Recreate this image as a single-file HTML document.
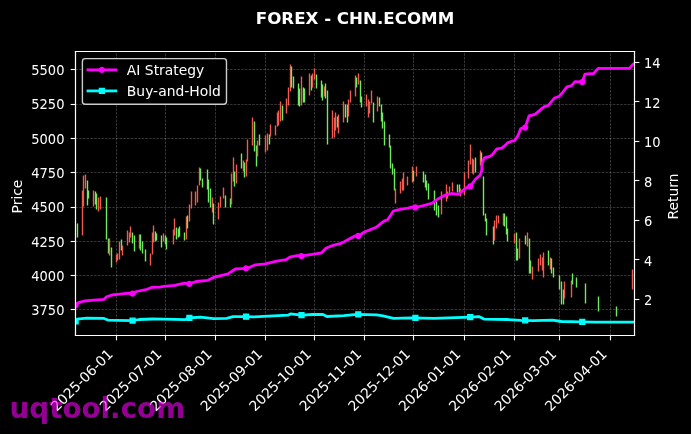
<!DOCTYPE html>
<html><head><meta charset="utf-8"><style>html,body{margin:0;padding:0;background:#000;width:691px;height:434px;overflow:hidden}svg{display:block}</style></head><body>
<svg width="691" height="434" viewBox="0 0 497.52 312.48">
 
 <defs>
  <style type="text/css">*{stroke-linejoin: round; stroke-linecap: butt}</style>
 </defs>
 <g id="figure_1">
  <g id="patch_1">
   <path d="M 0 312.48 
L 497.52 312.48 
L 497.52 0 
L 0 0 
z
"/>
  </g>
  <g id="axes_1">
   <g id="patch_2">
    <path d="M 54.126 241.2 
L 456.606 241.2 
L 456.606 36.72 
L 54.126 36.72 
z
"/>
   </g>
   <g id="matplotlib.axis_1">
    <g id="xtick_1">
     <g id="line2d_1">
      <path d="M 83.8800 241.5600 
L 83.8800 37.0800 
" clip-path="url(#p8a2a7d8e47)" style="fill: none; stroke-dasharray: 1.85,0.8; stroke-dashoffset: 0; stroke: #ffffff; stroke-opacity: 0.3; stroke-width: 0.5"/>
     </g>
     <g id="line2d_2">
      <defs>
       <path id="m3d74631712" d="M 0 0 
L 0 3.5 
" style="stroke: #ffffff; stroke-width: 0.8"/>
      </defs>
      <g>
       <use href="#m3d74631712" x="83.8800" y="241.5600" style="fill: #ffffff; stroke: #ffffff; stroke-width: 0.8"/>
      </g>
     </g>
     <g id="text_1">
      <text style="font-size: 10px; font-family: 'DejaVu Sans', sans-serif; fill: #ffffff" transform="translate(40.811486 296.666859) rotate(-45)">2025-06-01</text>
     </g>
    </g>
    <g id="xtick_2">
     <g id="line2d_3">
      <path d="M 119.1600 241.5600 
L 119.1600 37.0800 
" clip-path="url(#p8a2a7d8e47)" style="fill: none; stroke-dasharray: 1.85,0.8; stroke-dashoffset: 0; stroke: #ffffff; stroke-opacity: 0.3; stroke-width: 0.5"/>
     </g>
     <g id="line2d_4">
      <g>
       <use href="#m3d74631712" x="119.1600" y="241.5600" style="fill: #ffffff; stroke: #ffffff; stroke-width: 0.8"/>
      </g>
     </g>
     <g id="text_2">
      <text style="font-size: 10px; font-family: 'DejaVu Sans', sans-serif; fill: #ffffff" transform="translate(75.911486 296.666859) rotate(-45)">2025-07-01</text>
     </g>
    </g>
    <g id="xtick_3">
     <g id="line2d_5">
      <path d="M 155.1600 241.5600 
L 155.1600 37.0800 
" clip-path="url(#p8a2a7d8e47)" style="fill: none; stroke-dasharray: 1.85,0.8; stroke-dashoffset: 0; stroke: #ffffff; stroke-opacity: 0.3; stroke-width: 0.5"/>
     </g>
     <g id="line2d_6">
      <g>
       <use href="#m3d74631712" x="155.1600" y="241.5600" style="fill: #ffffff; stroke: #ffffff; stroke-width: 0.8"/>
      </g>
     </g>
     <g id="text_3">
      <text style="font-size: 10px; font-family: 'DejaVu Sans', sans-serif; fill: #ffffff" transform="translate(112.181486 296.666859) rotate(-45)">2025-08-01</text>
     </g>
    </g>
    <g id="xtick_4">
     <g id="line2d_7">
      <path d="M 191.1600 241.5600 
L 191.1600 37.0800 
" clip-path="url(#p8a2a7d8e47)" style="fill: none; stroke-dasharray: 1.85,0.8; stroke-dashoffset: 0; stroke: #ffffff; stroke-opacity: 0.3; stroke-width: 0.5"/>
     </g>
     <g id="line2d_8">
      <g>
       <use href="#m3d74631712" x="191.1600" y="241.5600" style="fill: #ffffff; stroke: #ffffff; stroke-width: 0.8"/>
      </g>
     </g>
     <g id="text_4">
      <text style="font-size: 10px; font-family: 'DejaVu Sans', sans-serif; fill: #ffffff" transform="translate(148.451486 296.666859) rotate(-45)">2025-09-01</text>
     </g>
    </g>
    <g id="xtick_5">
     <g id="line2d_9">
      <path d="M 226.4400 241.5600 
L 226.4400 37.0800 
" clip-path="url(#p8a2a7d8e47)" style="fill: none; stroke-dasharray: 1.85,0.8; stroke-dashoffset: 0; stroke: #ffffff; stroke-opacity: 0.3; stroke-width: 0.5"/>
     </g>
     <g id="line2d_10">
      <g>
       <use href="#m3d74631712" x="226.4400" y="241.5600" style="fill: #ffffff; stroke: #ffffff; stroke-width: 0.8"/>
      </g>
     </g>
     <g id="text_5">
      <text style="font-size: 10px; font-family: 'DejaVu Sans', sans-serif; fill: #ffffff" transform="translate(183.551486 296.666859) rotate(-45)">2025-10-01</text>
     </g>
    </g>
    <g id="xtick_6">
     <g id="line2d_11">
      <path d="M 262.4400 241.5600 
L 262.4400 37.0800 
" clip-path="url(#p8a2a7d8e47)" style="fill: none; stroke-dasharray: 1.85,0.8; stroke-dashoffset: 0; stroke: #ffffff; stroke-opacity: 0.3; stroke-width: 0.5"/>
     </g>
     <g id="line2d_12">
      <g>
       <use href="#m3d74631712" x="262.4400" y="241.5600" style="fill: #ffffff; stroke: #ffffff; stroke-width: 0.8"/>
      </g>
     </g>
     <g id="text_6">
      <text style="font-size: 10px; font-family: 'DejaVu Sans', sans-serif; fill: #ffffff" transform="translate(219.821486 296.666859) rotate(-45)">2025-11-01</text>
     </g>
    </g>
    <g id="xtick_7">
     <g id="line2d_13">
      <path d="M 297.7200 241.5600 
L 297.7200 37.0800 
" clip-path="url(#p8a2a7d8e47)" style="fill: none; stroke-dasharray: 1.85,0.8; stroke-dashoffset: 0; stroke: #ffffff; stroke-opacity: 0.3; stroke-width: 0.5"/>
     </g>
     <g id="line2d_14">
      <g>
       <use href="#m3d74631712" x="297.7200" y="241.5600" style="fill: #ffffff; stroke: #ffffff; stroke-width: 0.8"/>
      </g>
     </g>
     <g id="text_7">
      <text style="font-size: 10px; font-family: 'DejaVu Sans', sans-serif; fill: #ffffff" transform="translate(254.921486 296.666859) rotate(-45)">2025-12-01</text>
     </g>
    </g>
    <g id="xtick_8">
     <g id="line2d_15">
      <path d="M 334.4400 241.5600 
L 334.4400 37.0800 
" clip-path="url(#p8a2a7d8e47)" style="fill: none; stroke-dasharray: 1.85,0.8; stroke-dashoffset: 0; stroke: #ffffff; stroke-opacity: 0.3; stroke-width: 0.5"/>
     </g>
     <g id="line2d_16">
      <g>
       <use href="#m3d74631712" x="334.4400" y="241.5600" style="fill: #ffffff; stroke: #ffffff; stroke-width: 0.8"/>
      </g>
     </g>
     <g id="text_8">
      <text style="font-size: 10px; font-family: 'DejaVu Sans', sans-serif; fill: #ffffff" transform="translate(291.191486 296.666859) rotate(-45)">2026-01-01</text>
     </g>
    </g>
    <g id="xtick_9">
     <g id="line2d_17">
      <path d="M 370.4400 241.5600 
L 370.4400 37.0800 
" clip-path="url(#p8a2a7d8e47)" style="fill: none; stroke-dasharray: 1.85,0.8; stroke-dashoffset: 0; stroke: #ffffff; stroke-opacity: 0.3; stroke-width: 0.5"/>
     </g>
     <g id="line2d_18">
      <g>
       <use href="#m3d74631712" x="370.4400" y="241.5600" style="fill: #ffffff; stroke: #ffffff; stroke-width: 0.8"/>
      </g>
     </g>
     <g id="text_9">
      <text style="font-size: 10px; font-family: 'DejaVu Sans', sans-serif; fill: #ffffff" transform="translate(327.461486 296.666859) rotate(-45)">2026-02-01</text>
     </g>
    </g>
    <g id="xtick_10">
     <g id="line2d_19">
      <path d="M 402.8400 241.5600 
L 402.8400 37.0800 
" clip-path="url(#p8a2a7d8e47)" style="fill: none; stroke-dasharray: 1.85,0.8; stroke-dashoffset: 0; stroke: #ffffff; stroke-opacity: 0.3; stroke-width: 0.5"/>
     </g>
     <g id="line2d_20">
      <g>
       <use href="#m3d74631712" x="402.8400" y="241.5600" style="fill: #ffffff; stroke: #ffffff; stroke-width: 0.8"/>
      </g>
     </g>
     <g id="text_10">
      <text style="font-size: 10px; font-family: 'DejaVu Sans', sans-serif; fill: #ffffff" transform="translate(360.221486 296.666859) rotate(-45)">2026-03-01</text>
     </g>
    </g>
    <g id="xtick_11">
     <g id="line2d_21">
      <path d="M 439.5600 241.5600 
L 439.5600 37.0800 
" clip-path="url(#p8a2a7d8e47)" style="fill: none; stroke-dasharray: 1.85,0.8; stroke-dashoffset: 0; stroke: #ffffff; stroke-opacity: 0.3; stroke-width: 0.5"/>
     </g>
     <g id="line2d_22">
      <g>
       <use href="#m3d74631712" x="439.5600" y="241.5600" style="fill: #ffffff; stroke: #ffffff; stroke-width: 0.8"/>
      </g>
     </g>
     <g id="text_11">
      <text style="font-size: 10px; font-family: 'DejaVu Sans', sans-serif; fill: #ffffff" transform="translate(396.491486 296.666859) rotate(-45)">2026-04-01</text>
     </g>
    </g>
   </g>
   <g id="matplotlib.axis_2">
    <g id="ytick_1">
     <g id="line2d_23">
      <path d="M 54.3600 222.8400 
L 456.8400 222.8400 
" clip-path="url(#p8a2a7d8e47)" style="fill: none; stroke-dasharray: 1.85,0.8; stroke-dashoffset: 0; stroke: #ffffff; stroke-opacity: 0.3; stroke-width: 0.5"/>
     </g>
     <g id="line2d_24">
      <defs>
       <path id="mdc6017648b" d="M 0 0 
L -3.5 0 
" style="stroke: #ffffff; stroke-width: 0.8"/>
      </defs>
      <g>
       <use href="#mdc6017648b" x="54.3600" y="222.8400" style="fill: #ffffff; stroke: #ffffff; stroke-width: 0.8"/>
      </g>
     </g>
     <g id="text_12">
      <text style="font-size: 10px; font-family: 'DejaVu Sans', sans-serif; text-anchor: end; fill: #ffffff" x="47.126" y="226.603219" transform="translate(35.226 0.36) scale(0.94 1) translate(-35.226 0)">3750</text>
     </g>
    </g>
    <g id="ytick_2">
     <g id="line2d_25">
      <path d="M 54.3600 198.3600 
L 456.8400 198.3600 
" clip-path="url(#p8a2a7d8e47)" style="fill: none; stroke-dasharray: 1.85,0.8; stroke-dashoffset: 0; stroke: #ffffff; stroke-opacity: 0.3; stroke-width: 0.5"/>
     </g>
     <g id="line2d_26">
      <g>
       <use href="#mdc6017648b" x="54.3600" y="198.3600" style="fill: #ffffff; stroke: #ffffff; stroke-width: 0.8"/>
      </g>
     </g>
     <g id="text_13">
      <text style="font-size: 10px; font-family: 'DejaVu Sans', sans-serif; text-anchor: end; fill: #ffffff" x="47.126" y="201.907219" transform="translate(35.226 0.36) scale(0.94 1) translate(-35.226 0)">4000</text>
     </g>
    </g>
    <g id="ytick_3">
     <g id="line2d_27">
      <path d="M 54.3600 173.8800 
L 456.8400 173.8800 
" clip-path="url(#p8a2a7d8e47)" style="fill: none; stroke-dasharray: 1.85,0.8; stroke-dashoffset: 0; stroke: #ffffff; stroke-opacity: 0.3; stroke-width: 0.5"/>
     </g>
     <g id="line2d_28">
      <g>
       <use href="#mdc6017648b" x="54.3600" y="173.8800" style="fill: #ffffff; stroke: #ffffff; stroke-width: 0.8"/>
      </g>
     </g>
     <g id="text_14">
      <text style="font-size: 10px; font-family: 'DejaVu Sans', sans-serif; text-anchor: end; fill: #ffffff" x="47.126" y="177.211219" transform="translate(35.226 0.36) scale(0.94 1) translate(-35.226 0)">4250</text>
     </g>
    </g>
    <g id="ytick_4">
     <g id="line2d_29">
      <path d="M 54.3600 149.4000 
L 456.8400 149.4000 
" clip-path="url(#p8a2a7d8e47)" style="fill: none; stroke-dasharray: 1.85,0.8; stroke-dashoffset: 0; stroke: #ffffff; stroke-opacity: 0.3; stroke-width: 0.5"/>
     </g>
     <g id="line2d_30">
      <g>
       <use href="#mdc6017648b" x="54.3600" y="149.4000" style="fill: #ffffff; stroke: #ffffff; stroke-width: 0.8"/>
      </g>
     </g>
     <g id="text_15">
      <text style="font-size: 10px; font-family: 'DejaVu Sans', sans-serif; text-anchor: end; fill: #ffffff" x="47.126" y="152.515219" transform="translate(35.226 0.36) scale(0.94 1) translate(-35.226 0)">4500</text>
     </g>
    </g>
    <g id="ytick_5">
     <g id="line2d_31">
      <path d="M 54.3600 124.2000 
L 456.8400 124.2000 
" clip-path="url(#p8a2a7d8e47)" style="fill: none; stroke-dasharray: 1.85,0.8; stroke-dashoffset: 0; stroke: #ffffff; stroke-opacity: 0.3; stroke-width: 0.5"/>
     </g>
     <g id="line2d_32">
      <g>
       <use href="#mdc6017648b" x="54.3600" y="124.2000" style="fill: #ffffff; stroke: #ffffff; stroke-width: 0.8"/>
      </g>
     </g>
     <g id="text_16">
      <text style="font-size: 10px; font-family: 'DejaVu Sans', sans-serif; text-anchor: end; fill: #ffffff" x="47.126" y="127.819219" transform="translate(35.226 0.36) scale(0.94 1) translate(-35.226 0)">4750</text>
     </g>
    </g>
    <g id="ytick_6">
     <g id="line2d_33">
      <path d="M 54.3600 99.7200 
L 456.8400 99.7200 
" clip-path="url(#p8a2a7d8e47)" style="fill: none; stroke-dasharray: 1.85,0.8; stroke-dashoffset: 0; stroke: #ffffff; stroke-opacity: 0.3; stroke-width: 0.5"/>
     </g>
     <g id="line2d_34">
      <g>
       <use href="#mdc6017648b" x="54.3600" y="99.7200" style="fill: #ffffff; stroke: #ffffff; stroke-width: 0.8"/>
      </g>
     </g>
     <g id="text_17">
      <text style="font-size: 10px; font-family: 'DejaVu Sans', sans-serif; text-anchor: end; fill: #ffffff" x="47.126" y="103.123219" transform="translate(35.226 0.36) scale(0.94 1) translate(-35.226 0)">5000</text>
     </g>
    </g>
    <g id="ytick_7">
     <g id="line2d_35">
      <path d="M 54.3600 75.2400 
L 456.8400 75.2400 
" clip-path="url(#p8a2a7d8e47)" style="fill: none; stroke-dasharray: 1.85,0.8; stroke-dashoffset: 0; stroke: #ffffff; stroke-opacity: 0.3; stroke-width: 0.5"/>
     </g>
     <g id="line2d_36">
      <g>
       <use href="#mdc6017648b" x="54.3600" y="75.2400" style="fill: #ffffff; stroke: #ffffff; stroke-width: 0.8"/>
      </g>
     </g>
     <g id="text_18">
      <text style="font-size: 10px; font-family: 'DejaVu Sans', sans-serif; text-anchor: end; fill: #ffffff" x="47.126" y="78.427219" transform="translate(35.226 0.36) scale(0.94 1) translate(-35.226 0)">5250</text>
     </g>
    </g>
    <g id="ytick_8">
     <g id="line2d_37">
      <path d="M 54.3600 50.0400 
L 456.8400 50.0400 
" clip-path="url(#p8a2a7d8e47)" style="fill: none; stroke-dasharray: 1.85,0.8; stroke-dashoffset: 0; stroke: #ffffff; stroke-opacity: 0.3; stroke-width: 0.5"/>
     </g>
     <g id="line2d_38">
      <g>
       <use href="#mdc6017648b" x="54.3600" y="50.0400" style="fill: #ffffff; stroke: #ffffff; stroke-width: 0.8"/>
      </g>
     </g>
     <g id="text_19">
      <text style="font-size: 10px; font-family: 'DejaVu Sans', sans-serif; text-anchor: end; fill: #ffffff" x="47.126" y="53.731219" transform="translate(35.226 0.36) scale(0.94 1) translate(-35.226 0)">5500</text>
     </g>
    </g>
    <g id="text_20">
     <text style="font-size: 10px; font-family: 'DejaVu Sans', sans-serif; text-anchor: middle; fill: #ffffff" x="15.596312" y="141.475104" transform="rotate(-90 15.596312 141.475104)">Price</text>
    </g>
   </g>
   <g id="LineCollection_1">
    <path d="M 55.8000 171.0000 
L 55.8000 160.9200 
" clip-path="url(#p8a2a7d8e47)" style="fill: none; stroke: #6eeb5f"/>
    <path d="M 59.4000 169.5600 
L 59.4000 137.1600 
" clip-path="url(#p8a2a7d8e47)" style="fill: none; stroke: #f05a50"/>
    <path d="M 60.1200 148.6800 
L 60.1200 126.3600 
" clip-path="url(#p8a2a7d8e47)" style="fill: none; stroke: #f05a50"/>
    <path d="M 61.5600 135.7200 
L 61.5600 125.6400 
" clip-path="url(#p8a2a7d8e47)" style="fill: none; stroke: #f05a50"/>
    <path d="M 63.0000 147.9600 
L 63.0000 129.9600 
" clip-path="url(#p8a2a7d8e47)" style="fill: none; stroke: #6eeb5f"/>
    <path d="M 63.7200 142.9200 
L 63.7200 137.1600 
" clip-path="url(#p8a2a7d8e47)" style="fill: none; stroke: #6eeb5f"/>
    <path d="M 67.3200 148.6800 
L 67.3200 137.1600 
" clip-path="url(#p8a2a7d8e47)" style="fill: none; stroke: #f05a50"/>
    <path d="M 68.7600 147.2400 
L 68.7600 137.8800 
" clip-path="url(#p8a2a7d8e47)" style="fill: none; stroke: #6eeb5f"/>
    <path d="M 69.4800 150.8400 
L 69.4800 139.3200 
" clip-path="url(#p8a2a7d8e47)" style="fill: none; stroke: #6eeb5f"/>
    <path d="M 70.9200 152.2800 
L 70.9200 142.2000 
" clip-path="url(#p8a2a7d8e47)" style="fill: none; stroke: #f05a50"/>
    <path d="M 72.3600 150.8400 
L 72.3600 141.4800 
" clip-path="url(#p8a2a7d8e47)" style="fill: none; stroke: #f05a50"/>
    <path d="M 76.6800 172.4400 
L 76.6800 142.2000 
" clip-path="url(#p8a2a7d8e47)" style="fill: none; stroke: #6eeb5f"/>
    <path d="M 78.1200 182.5200 
L 78.1200 171.7200 
" clip-path="url(#p8a2a7d8e47)" style="fill: none; stroke: #6eeb5f"/>
    <path d="M 78.8400 183.9600 
L 78.8400 171.7200 
" clip-path="url(#p8a2a7d8e47)" style="fill: none; stroke: #f05a50"/>
    <path d="M 80.2800 192.6000 
L 80.2800 178.2000 
" clip-path="url(#p8a2a7d8e47)" style="fill: none; stroke: #6eeb5f"/>
    <path d="M 83.8800 189.0000 
L 83.8800 183.2400 
" clip-path="url(#p8a2a7d8e47)" style="fill: none; stroke: #f05a50"/>
    <path d="M 84.6000 187.5600 
L 84.6000 182.5200 
" clip-path="url(#p8a2a7d8e47)" style="fill: none; stroke: #f05a50"/>
    <path d="M 86.0400 186.8400 
L 86.0400 173.8800 
" clip-path="url(#p8a2a7d8e47)" style="fill: none; stroke: #f05a50"/>
    <path d="M 87.4800 180.3600 
L 87.4800 172.4400 
" clip-path="url(#p8a2a7d8e47)" style="fill: none; stroke: #6eeb5f"/>
    <path d="M 88.2000 183.9600 
L 88.2000 176.7600 
" clip-path="url(#p8a2a7d8e47)" style="fill: none; stroke: #f05a50"/>
    <path d="M 91.8000 176.7600 
L 91.8000 165.9600 
" clip-path="url(#p8a2a7d8e47)" style="fill: none; stroke: #f05a50"/>
    <path d="M 93.2400 174.6000 
L 93.2400 167.4000 
" clip-path="url(#p8a2a7d8e47)" style="fill: none; stroke: #f05a50"/>
    <path d="M 93.9600 171.0000 
L 93.9600 163.0800 
" clip-path="url(#p8a2a7d8e47)" style="fill: none; stroke: #f05a50"/>
    <path d="M 95.4000 175.3200 
L 95.4000 167.4000 
" clip-path="url(#p8a2a7d8e47)" style="fill: none; stroke: #6eeb5f"/>
    <path d="M 96.8400 181.0800 
L 96.8400 169.5600 
" clip-path="url(#p8a2a7d8e47)" style="fill: none; stroke: #6eeb5f"/>
    <path d="M 100.4400 178.9200 
L 100.4400 168.8400 
" clip-path="url(#p8a2a7d8e47)" style="fill: none; stroke: #f05a50"/>
    <path d="M 101.1600 180.3600 
L 101.1600 168.8400 
" clip-path="url(#p8a2a7d8e47)" style="fill: none; stroke: #6eeb5f"/>
    <path d="M 102.6000 182.5200 
L 102.6000 173.8800 
" clip-path="url(#p8a2a7d8e47)" style="fill: none; stroke: #6eeb5f"/>
    <path d="M 104.7600 188.2800 
L 104.7600 179.6400 
" clip-path="url(#p8a2a7d8e47)" style="fill: none; stroke: #6eeb5f"/>
    <path d="M 108.3600 191.1600 
L 108.3600 182.5200 
" clip-path="url(#p8a2a7d8e47)" style="fill: none; stroke: #f05a50"/>
    <path d="M 109.8000 183.2400 
L 109.8000 167.4000 
" clip-path="url(#p8a2a7d8e47)" style="fill: none; stroke: #f05a50"/>
    <path d="M 110.5200 174.6000 
L 110.5200 162.3600 
" clip-path="url(#p8a2a7d8e47)" style="fill: none; stroke: #f05a50"/>
    <path d="M 111.9600 173.8800 
L 111.9600 166.6800 
" clip-path="url(#p8a2a7d8e47)" style="fill: none; stroke: #6eeb5f"/>
    <path d="M 112.6800 173.1600 
L 112.6800 168.1200 
" clip-path="url(#p8a2a7d8e47)" style="fill: none; stroke: #6eeb5f"/>
    <path d="M 116.2800 178.2000 
L 116.2800 169.5600 
" clip-path="url(#p8a2a7d8e47)" style="fill: none; stroke: #6eeb5f"/>
    <path d="M 117.7200 173.8800 
L 117.7200 168.1200 
" clip-path="url(#p8a2a7d8e47)" style="fill: none; stroke: #f05a50"/>
    <path d="M 119.1600 176.0400 
L 119.1600 169.5600 
" clip-path="url(#p8a2a7d8e47)" style="fill: none; stroke: #6eeb5f"/>
    <path d="M 119.8800 179.6400 
L 119.8800 171.0000 
" clip-path="url(#p8a2a7d8e47)" style="fill: none; stroke: #6eeb5f"/>
    <path d="M 124.9200 176.0400 
L 124.9200 165.2400 
" clip-path="url(#p8a2a7d8e47)" style="fill: none; stroke: #f05a50"/>
    <path d="M 125.6400 169.5600 
L 125.6400 157.3200 
" clip-path="url(#p8a2a7d8e47)" style="fill: none; stroke: #f05a50"/>
    <path d="M 127.0800 172.4400 
L 127.0800 163.8000 
" clip-path="url(#p8a2a7d8e47)" style="fill: none; stroke: #6eeb5f"/>
    <path d="M 128.5200 171.0000 
L 128.5200 164.5200 
" clip-path="url(#p8a2a7d8e47)" style="fill: none; stroke: #6eeb5f"/>
    <path d="M 129.2400 170.2800 
L 129.2400 163.0800 
" clip-path="url(#p8a2a7d8e47)" style="fill: none; stroke: #6eeb5f"/>
    <path d="M 132.8400 173.1600 
L 132.8400 167.4000 
" clip-path="url(#p8a2a7d8e47)" style="fill: none; stroke: #6eeb5f"/>
    <path d="M 134.2800 172.4400 
L 134.2800 155.8800 
" clip-path="url(#p8a2a7d8e47)" style="fill: none; stroke: #f05a50"/>
    <path d="M 135.0000 164.5200 
L 135.0000 155.1600 
" clip-path="url(#p8a2a7d8e47)" style="fill: none; stroke: #6eeb5f"/>
    <path d="M 136.4400 159.4800 
L 136.4400 147.2400 
" clip-path="url(#p8a2a7d8e47)" style="fill: none; stroke: #f05a50"/>
    <path d="M 137.8800 150.1200 
L 137.8800 137.8800 
" clip-path="url(#p8a2a7d8e47)" style="fill: none; stroke: #f05a50"/>
    <path d="M 140.7600 147.9600 
L 140.7600 137.8800 
" clip-path="url(#p8a2a7d8e47)" style="fill: none; stroke: #f05a50"/>
    <path d="M 142.2000 145.8000 
L 142.2000 133.5600 
" clip-path="url(#p8a2a7d8e47)" style="fill: none; stroke: #f05a50"/>
    <path d="M 143.6400 133.5600 
L 143.6400 120.6000 
" clip-path="url(#p8a2a7d8e47)" style="fill: none; stroke: #f05a50"/>
    <path d="M 144.3600 129.9600 
L 144.3600 121.3200 
" clip-path="url(#p8a2a7d8e47)" style="fill: none; stroke: #6eeb5f"/>
    <path d="M 145.8000 135.0000 
L 145.8000 128.5200 
" clip-path="url(#p8a2a7d8e47)" style="fill: none; stroke: #6eeb5f"/>
    <path d="M 149.4000 136.4400 
L 149.4000 122.0400 
" clip-path="url(#p8a2a7d8e47)" style="fill: none; stroke: #6eeb5f"/>
    <path d="M 150.1200 145.8000 
L 150.1200 129.2400 
" clip-path="url(#p8a2a7d8e47)" style="fill: none; stroke: #6eeb5f"/>
    <path d="M 151.5600 149.4000 
L 151.5600 135.7200 
" clip-path="url(#p8a2a7d8e47)" style="fill: none; stroke: #6eeb5f"/>
    <path d="M 153.0000 153.0000 
L 153.0000 142.2000 
" clip-path="url(#p8a2a7d8e47)" style="fill: none; stroke: #f05a50"/>
    <path d="M 153.7200 161.6400 
L 153.7200 146.5200 
" clip-path="url(#p8a2a7d8e47)" style="fill: none; stroke: #6eeb5f"/>
    <path d="M 157.3200 158.0400 
L 157.3200 145.8000 
" clip-path="url(#p8a2a7d8e47)" style="fill: none; stroke: #f05a50"/>
    <path d="M 158.7600 149.4000 
L 158.7600 141.4800 
" clip-path="url(#p8a2a7d8e47)" style="fill: none; stroke: #f05a50"/>
    <path d="M 160.9200 142.9200 
L 160.9200 135.0000 
" clip-path="url(#p8a2a7d8e47)" style="fill: none; stroke: #f05a50"/>
    <path d="M 162.3600 149.4000 
L 162.3600 140.7600 
" clip-path="url(#p8a2a7d8e47)" style="fill: none; stroke: #6eeb5f"/>
    <path d="M 165.9600 149.4000 
L 165.9600 142.9200 
" clip-path="url(#p8a2a7d8e47)" style="fill: none; stroke: #6eeb5f"/>
    <path d="M 166.6800 147.2400 
L 166.6800 124.9200 
" clip-path="url(#p8a2a7d8e47)" style="fill: none; stroke: #f05a50"/>
    <path d="M 168.1200 130.6800 
L 168.1200 113.4000 
" clip-path="url(#p8a2a7d8e47)" style="fill: none; stroke: #f05a50"/>
    <path d="M 168.8400 134.2800 
L 168.8400 123.4800 
" clip-path="url(#p8a2a7d8e47)" style="fill: none; stroke: #6eeb5f"/>
    <path d="M 170.2800 132.1200 
L 170.2800 118.4400 
" clip-path="url(#p8a2a7d8e47)" style="fill: none; stroke: #f05a50"/>
    <path d="M 173.8800 121.3200 
L 173.8800 110.5200 
" clip-path="url(#p8a2a7d8e47)" style="fill: none; stroke: #6eeb5f"/>
    <path d="M 175.3200 123.4800 
L 175.3200 115.5600 
" clip-path="url(#p8a2a7d8e47)" style="fill: none; stroke: #f05a50"/>
    <path d="M 176.0400 127.8000 
L 176.0400 117.0000 
" clip-path="url(#p8a2a7d8e47)" style="fill: none; stroke: #6eeb5f"/>
    <path d="M 177.4800 127.0800 
L 177.4800 114.8400 
" clip-path="url(#p8a2a7d8e47)" style="fill: none; stroke: #f05a50"/>
    <path d="M 178.2000 116.2800 
L 178.2000 100.4400 
" clip-path="url(#p8a2a7d8e47)" style="fill: none; stroke: #f05a50"/>
    <path d="M 181.8000 104.7600 
L 181.8000 84.6000 
" clip-path="url(#p8a2a7d8e47)" style="fill: none; stroke: #f05a50"/>
    <path d="M 183.2400 109.0800 
L 183.2400 87.4800 
" clip-path="url(#p8a2a7d8e47)" style="fill: none; stroke: #6eeb5f"/>
    <path d="M 184.6800 119.8800 
L 184.6800 104.7600 
" clip-path="url(#p8a2a7d8e47)" style="fill: none; stroke: #6eeb5f"/>
    <path d="M 185.4000 112.6800 
L 185.4000 101.1600 
" clip-path="url(#p8a2a7d8e47)" style="fill: none; stroke: #f05a50"/>
    <path d="M 186.8400 104.7600 
L 186.8400 96.8400 
" clip-path="url(#p8a2a7d8e47)" style="fill: none; stroke: #6eeb5f"/>
    <path d="M 191.1600 109.8000 
L 191.1600 97.5600 
" clip-path="url(#p8a2a7d8e47)" style="fill: none; stroke: #f05a50"/>
    <path d="M 192.6000 108.3600 
L 192.6000 96.1200 
" clip-path="url(#p8a2a7d8e47)" style="fill: none; stroke: #f05a50"/>
    <path d="M 194.0400 104.0400 
L 194.0400 96.8400 
" clip-path="url(#p8a2a7d8e47)" style="fill: none; stroke: #6eeb5f"/>
    <path d="M 194.7600 98.2800 
L 194.7600 89.6400 
" clip-path="url(#p8a2a7d8e47)" style="fill: none; stroke: #f05a50"/>
    <path d="M 198.3600 97.5600 
L 198.3600 90.3600 
" clip-path="url(#p8a2a7d8e47)" style="fill: none; stroke: #f05a50"/>
    <path d="M 199.8000 91.0800 
L 199.8000 81.0000 
" clip-path="url(#p8a2a7d8e47)" style="fill: none; stroke: #f05a50"/>
    <path d="M 200.5200 90.3600 
L 200.5200 79.5600 
" clip-path="url(#p8a2a7d8e47)" style="fill: none; stroke: #f05a50"/>
    <path d="M 201.9600 87.4800 
L 201.9600 73.0800 
" clip-path="url(#p8a2a7d8e47)" style="fill: none; stroke: #f05a50"/>
    <path d="M 203.4000 86.7600 
L 203.4000 75.9600 
" clip-path="url(#p8a2a7d8e47)" style="fill: none; stroke: #6eeb5f"/>
    <path d="M 206.2800 81.7200 
L 206.2800 70.9200 
" clip-path="url(#p8a2a7d8e47)" style="fill: none; stroke: #f05a50"/>
    <path d="M 207.7200 75.9600 
L 207.7200 63.0000 
" clip-path="url(#p8a2a7d8e47)" style="fill: none; stroke: #f05a50"/>
    <path d="M 209.1600 65.8800 
L 209.1600 46.4400 
" clip-path="url(#p8a2a7d8e47)" style="fill: none; stroke: #f05a50"/>
    <path d="M 209.8800 63.0000 
L 209.8800 47.8800 
" clip-path="url(#p8a2a7d8e47)" style="fill: none; stroke: #6eeb5f"/>
    <path d="M 211.3200 63.7200 
L 211.3200 55.0800 
" clip-path="url(#p8a2a7d8e47)" style="fill: none; stroke: #6eeb5f"/>
    <path d="M 214.9200 75.9600 
L 214.9200 60.1200 
" clip-path="url(#p8a2a7d8e47)" style="fill: none; stroke: #6eeb5f"/>
    <path d="M 215.6400 76.6800 
L 215.6400 63.7200 
" clip-path="url(#p8a2a7d8e47)" style="fill: none; stroke: #6eeb5f"/>
    <path d="M 217.0800 75.9600 
L 217.0800 55.0800 
" clip-path="url(#p8a2a7d8e47)" style="fill: none; stroke: #f05a50"/>
    <path d="M 218.5200 73.8000 
L 218.5200 63.0000 
" clip-path="url(#p8a2a7d8e47)" style="fill: none; stroke: #6eeb5f"/>
    <path d="M 219.2400 73.8000 
L 219.2400 63.7200 
" clip-path="url(#p8a2a7d8e47)" style="fill: none; stroke: #6eeb5f"/>
    <path d="M 222.8400 68.7600 
L 222.8400 52.9200 
" clip-path="url(#p8a2a7d8e47)" style="fill: none; stroke: #f05a50"/>
    <path d="M 224.2800 65.1600 
L 224.2800 54.3600 
" clip-path="url(#p8a2a7d8e47)" style="fill: none; stroke: #6eeb5f"/>
    <path d="M 225.0000 63.0000 
L 225.0000 52.9200 
" clip-path="url(#p8a2a7d8e47)" style="fill: none; stroke: #f05a50"/>
    <path d="M 226.4400 57.2400 
L 226.4400 49.3200 
" clip-path="url(#p8a2a7d8e47)" style="fill: none; stroke: #f05a50"/>
    <path d="M 227.8800 63.7200 
L 227.8800 53.6400 
" clip-path="url(#p8a2a7d8e47)" style="fill: none; stroke: #6eeb5f"/>
    <path d="M 231.4800 70.2000 
L 231.4800 57.9600 
" clip-path="url(#p8a2a7d8e47)" style="fill: none; stroke: #6eeb5f"/>
    <path d="M 232.2000 72.3600 
L 232.2000 60.8400 
" clip-path="url(#p8a2a7d8e47)" style="fill: none; stroke: #6eeb5f"/>
    <path d="M 233.6400 69.4800 
L 233.6400 62.2800 
" clip-path="url(#p8a2a7d8e47)" style="fill: none; stroke: #f05a50"/>
    <path d="M 234.3600 70.9200 
L 234.3600 60.1200 
" clip-path="url(#p8a2a7d8e47)" style="fill: none; stroke: #6eeb5f"/>
    <path d="M 235.8000 104.0400 
L 235.8000 65.1600 
" clip-path="url(#p8a2a7d8e47)" style="fill: none; stroke: #6eeb5f"/>
    <path d="M 239.4000 99.7200 
L 239.4000 79.5600 
" clip-path="url(#p8a2a7d8e47)" style="fill: none; stroke: #f05a50"/>
    <path d="M 240.8400 99.0000 
L 240.8400 84.6000 
" clip-path="url(#p8a2a7d8e47)" style="fill: none; stroke: #f05a50"/>
    <path d="M 241.5600 93.9600 
L 241.5600 81.0000 
" clip-path="url(#p8a2a7d8e47)" style="fill: none; stroke: #f05a50"/>
    <path d="M 243.0000 91.8000 
L 243.0000 83.8800 
" clip-path="url(#p8a2a7d8e47)" style="fill: none; stroke: #6eeb5f"/>
    <path d="M 243.7200 96.1200 
L 243.7200 82.4400 
" clip-path="url(#p8a2a7d8e47)" style="fill: none; stroke: #f05a50"/>
    <path d="M 247.3200 88.2000 
L 247.3200 73.0800 
" clip-path="url(#p8a2a7d8e47)" style="fill: none; stroke: #f05a50"/>
    <path d="M 248.7600 84.6000 
L 248.7600 75.2400 
" clip-path="url(#p8a2a7d8e47)" style="fill: none; stroke: #6eeb5f"/>
    <path d="M 250.2000 88.2000 
L 250.2000 75.2400 
" clip-path="url(#p8a2a7d8e47)" style="fill: none; stroke: #6eeb5f"/>
    <path d="M 250.9200 83.8800 
L 250.9200 71.6400 
" clip-path="url(#p8a2a7d8e47)" style="fill: none; stroke: #f05a50"/>
    <path d="M 252.3600 73.8000 
L 252.3600 65.1600 
" clip-path="url(#p8a2a7d8e47)" style="fill: none; stroke: #f05a50"/>
    <path d="M 255.9600 69.4800 
L 255.9600 54.3600 
" clip-path="url(#p8a2a7d8e47)" style="fill: none; stroke: #f05a50"/>
    <path d="M 256.6800 63.0000 
L 256.6800 55.8000 
" clip-path="url(#p8a2a7d8e47)" style="fill: none; stroke: #6eeb5f"/>
    <path d="M 258.1200 60.8400 
L 258.1200 52.9200 
" clip-path="url(#p8a2a7d8e47)" style="fill: none; stroke: #f05a50"/>
    <path d="M 259.5600 73.8000 
L 259.5600 57.9600 
" clip-path="url(#p8a2a7d8e47)" style="fill: none; stroke: #6eeb5f"/>
    <path d="M 260.2800 77.4000 
L 260.2800 69.4800 
" clip-path="url(#p8a2a7d8e47)" style="fill: none; stroke: #6eeb5f"/>
    <path d="M 263.8800 76.6800 
L 263.8800 68.0400 
" clip-path="url(#p8a2a7d8e47)" style="fill: none; stroke: #f05a50"/>
    <path d="M 265.3200 84.6000 
L 265.3200 71.6400 
" clip-path="url(#p8a2a7d8e47)" style="fill: none; stroke: #f05a50"/>
    <path d="M 266.0400 81.7200 
L 266.0400 73.0800 
" clip-path="url(#p8a2a7d8e47)" style="fill: none; stroke: #f05a50"/>
    <path d="M 267.4800 74.5200 
L 267.4800 65.1600 
" clip-path="url(#p8a2a7d8e47)" style="fill: none; stroke: #f05a50"/>
    <path d="M 268.9200 88.2000 
L 268.9200 73.8000 
" clip-path="url(#p8a2a7d8e47)" style="fill: none; stroke: #6eeb5f"/>
    <path d="M 271.8000 80.2800 
L 271.8000 69.4800 
" clip-path="url(#p8a2a7d8e47)" style="fill: none; stroke: #f05a50"/>
    <path d="M 273.2400 76.6800 
L 273.2400 70.2000 
" clip-path="url(#p8a2a7d8e47)" style="fill: none; stroke: #6eeb5f"/>
    <path d="M 274.6800 87.4800 
L 274.6800 75.2400 
" clip-path="url(#p8a2a7d8e47)" style="fill: none; stroke: #6eeb5f"/>
    <path d="M 275.4000 92.5200 
L 275.4000 81.0000 
" clip-path="url(#p8a2a7d8e47)" style="fill: none; stroke: #6eeb5f"/>
    <path d="M 276.8400 104.7600 
L 276.8400 87.4800 
" clip-path="url(#p8a2a7d8e47)" style="fill: none; stroke: #6eeb5f"/>
    <path d="M 280.4400 106.2000 
L 280.4400 96.8400 
" clip-path="url(#p8a2a7d8e47)" style="fill: none; stroke: #6eeb5f"/>
    <path d="M 281.1600 121.3200 
L 281.1600 104.7600 
" clip-path="url(#p8a2a7d8e47)" style="fill: none; stroke: #6eeb5f"/>
    <path d="M 282.6000 125.6400 
L 282.6000 117.7200 
" clip-path="url(#p8a2a7d8e47)" style="fill: none; stroke: #6eeb5f"/>
    <path d="M 284.0400 137.1600 
L 284.0400 121.3200 
" clip-path="url(#p8a2a7d8e47)" style="fill: none; stroke: #6eeb5f"/>
    <path d="M 284.7600 146.5200 
L 284.7600 135.7200 
" clip-path="url(#p8a2a7d8e47)" style="fill: none; stroke: #f05a50"/>
    <path d="M 288.3600 139.3200 
L 288.3600 130.6800 
" clip-path="url(#p8a2a7d8e47)" style="fill: none; stroke: #f05a50"/>
    <path d="M 289.8000 137.1600 
L 289.8000 128.5200 
" clip-path="url(#p8a2a7d8e47)" style="fill: none; stroke: #f05a50"/>
    <path d="M 290.5200 137.1600 
L 290.5200 124.2000 
" clip-path="url(#p8a2a7d8e47)" style="fill: none; stroke: #f05a50"/>
    <path d="M 293.4000 133.5600 
L 293.4000 127.0800 
" clip-path="url(#p8a2a7d8e47)" style="fill: none; stroke: #f05a50"/>
    <path d="M 297.0000 131.4000 
L 297.0000 119.8800 
" clip-path="url(#p8a2a7d8e47)" style="fill: none; stroke: #f05a50"/>
    <path d="M 297.7200 130.6800 
L 297.7200 122.7600 
" clip-path="url(#p8a2a7d8e47)" style="fill: none; stroke: #6eeb5f"/>
    <path d="M 299.8800 127.0800 
L 299.8800 119.8800 
" clip-path="url(#p8a2a7d8e47)" style="fill: none; stroke: #f05a50"/>
    <path d="M 304.9200 131.4000 
L 304.9200 123.4800 
" clip-path="url(#p8a2a7d8e47)" style="fill: none; stroke: #6eeb5f"/>
    <path d="M 306.3600 135.0000 
L 306.3600 125.6400 
" clip-path="url(#p8a2a7d8e47)" style="fill: none; stroke: #6eeb5f"/>
    <path d="M 307.0800 137.1600 
L 307.0800 129.9600 
" clip-path="url(#p8a2a7d8e47)" style="fill: none; stroke: #6eeb5f"/>
    <path d="M 308.5200 143.6400 
L 308.5200 132.1200 
" clip-path="url(#p8a2a7d8e47)" style="fill: none; stroke: #6eeb5f"/>
    <path d="M 312.8400 151.5600 
L 312.8400 137.1600 
" clip-path="url(#p8a2a7d8e47)" style="fill: none; stroke: #6eeb5f"/>
    <path d="M 314.2800 155.1600 
L 314.2800 145.0800 
" clip-path="url(#p8a2a7d8e47)" style="fill: none; stroke: #6eeb5f"/>
    <path d="M 315.7200 156.6000 
L 315.7200 147.9600 
" clip-path="url(#p8a2a7d8e47)" style="fill: none; stroke: #6eeb5f"/>
    <path d="M 317.8800 154.4400 
L 317.8800 137.8800 
" clip-path="url(#p8a2a7d8e47)" style="fill: none; stroke: #f05a50"/>
    <path d="M 321.4800 145.0800 
L 321.4800 132.8400 
" clip-path="url(#p8a2a7d8e47)" style="fill: none; stroke: #f05a50"/>
    <path d="M 322.2000 142.9200 
L 322.2000 137.8800 
" clip-path="url(#p8a2a7d8e47)" style="fill: none; stroke: #f05a50"/>
    <path d="M 323.6400 140.0400 
L 323.6400 134.2800 
" clip-path="url(#p8a2a7d8e47)" style="fill: none; stroke: #f05a50"/>
    <path d="M 325.8000 137.8800 
L 325.8000 131.4000 
" clip-path="url(#p8a2a7d8e47)" style="fill: none; stroke: #f05a50"/>
    <path d="M 329.4000 138.6000 
L 329.4000 132.8400 
" clip-path="url(#p8a2a7d8e47)" style="fill: none; stroke: #6eeb5f"/>
    <path d="M 330.8400 139.3200 
L 330.8400 132.8400 
" clip-path="url(#p8a2a7d8e47)" style="fill: none; stroke: #6eeb5f"/>
    <path d="M 331.5600 141.4800 
L 331.5600 135.7200 
" clip-path="url(#p8a2a7d8e47)" style="fill: none; stroke: #f05a50"/>
    <path d="M 334.4400 140.7600 
L 334.4400 124.2000 
" clip-path="url(#p8a2a7d8e47)" style="fill: none; stroke: #f05a50"/>
    <path d="M 337.3200 128.5200 
L 337.3200 115.5600 
" clip-path="url(#p8a2a7d8e47)" style="fill: none; stroke: #f05a50"/>
    <path d="M 338.7600 118.4400 
L 338.7600 104.0400 
" clip-path="url(#p8a2a7d8e47)" style="fill: none; stroke: #f05a50"/>
    <path d="M 340.2000 124.9200 
L 340.2000 114.1200 
" clip-path="url(#p8a2a7d8e47)" style="fill: none; stroke: #f05a50"/>
    <path d="M 340.9200 125.6400 
L 340.9200 114.8400 
" clip-path="url(#p8a2a7d8e47)" style="fill: none; stroke: #f05a50"/>
    <path d="M 342.3600 124.2000 
L 342.3600 113.4000 
" clip-path="url(#p8a2a7d8e47)" style="fill: none; stroke: #6eeb5f"/>
    <path d="M 345.9600 119.1600 
L 345.9600 108.3600 
" clip-path="url(#p8a2a7d8e47)" style="fill: none; stroke: #f05a50"/>
    <path d="M 346.6800 120.6000 
L 346.6800 109.8000 
" clip-path="url(#p8a2a7d8e47)" style="fill: none; stroke: #6eeb5f"/>
    <path d="M 348.1200 155.1600 
L 348.1200 127.0800 
" clip-path="url(#p8a2a7d8e47)" style="fill: none; stroke: #6eeb5f"/>
    <path d="M 349.5600 159.4800 
L 349.5600 153.7200 
" clip-path="url(#p8a2a7d8e47)" style="fill: none; stroke: #6eeb5f"/>
    <path d="M 350.2800 169.5600 
L 350.2800 157.3200 
" clip-path="url(#p8a2a7d8e47)" style="fill: none; stroke: #6eeb5f"/>
    <path d="M 355.3200 176.0400 
L 355.3200 163.0800 
" clip-path="url(#p8a2a7d8e47)" style="fill: none; stroke: #6eeb5f"/>
    <path d="M 356.0400 173.1600 
L 356.0400 158.7600 
" clip-path="url(#p8a2a7d8e47)" style="fill: none; stroke: #f05a50"/>
    <path d="M 357.4800 164.5200 
L 357.4800 155.1600 
" clip-path="url(#p8a2a7d8e47)" style="fill: none; stroke: #f05a50"/>
    <path d="M 358.9200 160.9200 
L 358.9200 155.1600 
" clip-path="url(#p8a2a7d8e47)" style="fill: none; stroke: #f05a50"/>
    <path d="M 362.5200 162.3600 
L 362.5200 153.7200 
" clip-path="url(#p8a2a7d8e47)" style="fill: none; stroke: #f05a50"/>
    <path d="M 363.2400 163.0800 
L 363.2400 153.7200 
" clip-path="url(#p8a2a7d8e47)" style="fill: none; stroke: #6eeb5f"/>
    <path d="M 364.6800 168.8400 
L 364.6800 155.8800 
" clip-path="url(#p8a2a7d8e47)" style="fill: none; stroke: #6eeb5f"/>
    <path d="M 365.4000 173.8800 
L 365.4000 164.5200 
" clip-path="url(#p8a2a7d8e47)" style="fill: none; stroke: #6eeb5f"/>
    <path d="M 370.4400 175.3200 
L 370.4400 168.1200 
" clip-path="url(#p8a2a7d8e47)" style="fill: none; stroke: #f05a50"/>
    <path d="M 371.8800 187.5600 
L 371.8800 167.4000 
" clip-path="url(#p8a2a7d8e47)" style="fill: none; stroke: #6eeb5f"/>
    <path d="M 372.6000 187.5600 
L 372.6000 178.9200 
" clip-path="url(#p8a2a7d8e47)" style="fill: none; stroke: #6eeb5f"/>
    <path d="M 374.0400 186.1200 
L 374.0400 171.7200 
" clip-path="url(#p8a2a7d8e47)" style="fill: none; stroke: #f05a50"/>
    <path d="M 378.3600 176.0400 
L 378.3600 169.5600 
" clip-path="url(#p8a2a7d8e47)" style="fill: none; stroke: #6eeb5f"/>
    <path d="M 379.8000 177.4800 
L 379.8000 167.4000 
" clip-path="url(#p8a2a7d8e47)" style="fill: none; stroke: #f05a50"/>
    <path d="M 381.2400 196.9200 
L 381.2400 171.7200 
" clip-path="url(#p8a2a7d8e47)" style="fill: none; stroke: #6eeb5f"/>
    <path d="M 381.9600 196.9200 
L 381.9600 187.5600 
" clip-path="url(#p8a2a7d8e47)" style="fill: none; stroke: #6eeb5f"/>
    <path d="M 383.4000 201.2400 
L 383.4000 191.8800 
" clip-path="url(#p8a2a7d8e47)" style="fill: none; stroke: #f05a50"/>
    <path d="M 387.7200 195.4800 
L 387.7200 186.1200 
" clip-path="url(#p8a2a7d8e47)" style="fill: none; stroke: #f05a50"/>
    <path d="M 389.1600 191.1600 
L 389.1600 183.2400 
" clip-path="url(#p8a2a7d8e47)" style="fill: none; stroke: #f05a50"/>
    <path d="M 390.6000 194.7600 
L 390.6000 185.4000 
" clip-path="url(#p8a2a7d8e47)" style="fill: none; stroke: #f05a50"/>
    <path d="M 391.3200 199.8000 
L 391.3200 181.8000 
" clip-path="url(#p8a2a7d8e47)" style="fill: none; stroke: #f05a50"/>
    <path d="M 394.9200 191.1600 
L 394.9200 180.3600 
" clip-path="url(#p8a2a7d8e47)" style="fill: none; stroke: #6eeb5f"/>
    <path d="M 396.3600 194.0400 
L 396.3600 185.4000 
" clip-path="url(#p8a2a7d8e47)" style="fill: none; stroke: #f05a50"/>
    <path d="M 397.0800 196.9200 
L 397.0800 186.1200 
" clip-path="url(#p8a2a7d8e47)" style="fill: none; stroke: #6eeb5f"/>
    <path d="M 398.5200 199.8000 
L 398.5200 192.6000 
" clip-path="url(#p8a2a7d8e47)" style="fill: none; stroke: #6eeb5f"/>
    <path d="M 402.8400 208.4400 
L 402.8400 198.3600 
" clip-path="url(#p8a2a7d8e47)" style="fill: none; stroke: #6eeb5f"/>
    <path d="M 404.2800 219.2400 
L 404.2800 202.6800 
" clip-path="url(#p8a2a7d8e47)" style="fill: none; stroke: #6eeb5f"/>
    <path d="M 405.7200 219.2400 
L 405.7200 208.4400 
" clip-path="url(#p8a2a7d8e47)" style="fill: none; stroke: #6eeb5f"/>
    <path d="M 406.4400 214.9200 
L 406.4400 202.6800 
" clip-path="url(#p8a2a7d8e47)" style="fill: none; stroke: #f05a50"/>
    <path d="M 411.4800 214.2000 
L 411.4800 201.9600 
" clip-path="url(#p8a2a7d8e47)" style="fill: none; stroke: #f05a50"/>
    <path d="M 412.2000 204.8400 
L 412.2000 196.9200 
" clip-path="url(#p8a2a7d8e47)" style="fill: none; stroke: #6eeb5f"/>
    <path d="M 415.0800 207.0000 
L 415.0800 199.8000 
" clip-path="url(#p8a2a7d8e47)" style="fill: none; stroke: #6eeb5f"/>
    <path d="M 421.5600 218.5200 
L 421.5600 204.1200 
" clip-path="url(#p8a2a7d8e47)" style="fill: none; stroke: #6eeb5f"/>
    <path d="M 430.9200 224.2800 
L 430.9200 213.4800 
" clip-path="url(#p8a2a7d8e47)" style="fill: none; stroke: #6eeb5f"/>
    <path d="M 443.8800 227.8800 
L 443.8800 220.6800 
" clip-path="url(#p8a2a7d8e47)" style="fill: none; stroke: #6eeb5f"/>
    <path d="M 455.4000 208.4400 
L 455.4000 194.0400 
" clip-path="url(#p8a2a7d8e47)" style="fill: none; stroke: #f05a50"/>
   </g>
   <g id="patch_3">
    <path d="M 54.3600 241.5600 
L 54.3600 37.0800 
" style="fill: none; stroke: #ffffff; stroke-width: 0.8; stroke-linejoin: miter; stroke-linecap: square"/>
   </g>
   <g id="patch_4">
    <path d="M 456.8400 241.5600 
L 456.8400 37.0800 
" style="fill: none; stroke: #ffffff; stroke-width: 0.8; stroke-linejoin: miter; stroke-linecap: square"/>
   </g>
   <g id="patch_5">
    <path d="M 54.3600 241.5600 
L 456.8400 241.5600 
" style="fill: none; stroke: #ffffff; stroke-width: 0.8; stroke-linejoin: miter; stroke-linecap: square"/>
   </g>
   <g id="patch_6">
    <path d="M 54.3600 37.0800 
L 456.8400 37.0800 
" style="fill: none; stroke: #ffffff; stroke-width: 0.8; stroke-linejoin: miter; stroke-linecap: square"/>
   </g>
   <g id="legend_1">
    <g id="patch_7">
     <path d="M 61.328 75.04825 
L 161.0655 75.04825 
Q 163.0655 75.04825 163.0655 73.04825 
L 163.0655 44.192 
Q 163.0655 42.192 161.0655 42.192 
L 61.328 42.192 
Q 59.328 42.192 59.328 44.192 
L 59.328 73.04825 
Q 59.328 75.04825 61.328 75.04825 
z
" style="stroke: #cccccc; stroke-linejoin: miter"/>
    </g>
    <g id="line2d_39">
     <path d="M 63.328 50.290437 
L 73.328 50.290437 
L 83.328 50.290437 
" style="fill: none; stroke: #ff00ff; stroke-width: 2; stroke-linecap: square"/>
     <defs>
      <path id="mb747404ded" d="M 0 1.75 
C 0.464105 1.75 0.909265 1.565609 1.237437 1.237437 
C 1.565609 0.909265 1.75 0.464105 1.75 0 
C 1.75 -0.464105 1.565609 -0.909265 1.237437 -1.237437 
C 0.909265 -1.565609 0.464105 -1.75 0 -1.75 
C -0.464105 -1.75 -0.909265 -1.565609 -1.237437 -1.237437 
C -1.565609 -0.909265 -1.75 -0.464105 -1.75 0 
C -1.75 0.464105 -1.565609 0.909265 -1.237437 1.237437 
C -0.909265 1.565609 -0.464105 1.75 0 1.75 
z
" style="stroke: #ff00ff"/>
     </defs>
     <g>
      <use href="#mb747404ded" x="73.328" y="50.290437" style="fill: #ff00ff; stroke: #ff00ff"/>
     </g>
    </g>
    <g id="text_21">
     <text style="font-size: 10px; font-family: 'DejaVu Sans', sans-serif; text-anchor: start; fill: #ffffff" x="91.328" y="53.790437" transform="rotate(-0 91.328 53.790437)">AI Strategy</text>
    </g>
    <g id="line2d_40">
     <path d="M 63.328 65.468562 
L 73.328 65.468562 
L 83.328 65.468562 
" style="fill: none; stroke: #00ffff; stroke-width: 2; stroke-linecap: square"/>
     <defs>
      <path id="m5362e61e45" d="M -1.75 1.75 
L 1.75 1.75 
L 1.75 -1.75 
L -1.75 -1.75 
z
" style="stroke: #00ffff; stroke-linejoin: miter"/>
     </defs>
     <g>
      <use href="#m5362e61e45" x="73.328" y="65.468562" style="fill: #00ffff; stroke: #00ffff; stroke-linejoin: miter"/>
     </g>
    </g>
    <g id="text_22">
     <text style="font-size: 10px; font-family: 'DejaVu Sans', sans-serif; text-anchor: start; fill: #ffffff" x="91.328" y="68.968562" transform="rotate(-0 91.328 68.968562)">Buy-and-Hold</text>
    </g>
   </g>
  </g>
  <g id="axes_2">
   <g id="matplotlib.axis_3">
    <g id="ytick_9">
     <g id="line2d_41">
      <defs>
       <path id="mb60851cee2" d="M 0 0 
L 3.5 0 
" style="stroke: #ffffff; stroke-width: 0.8"/>
      </defs>
      <g>
       <use href="#mb60851cee2" x="456.8400" y="215.6400" style="fill: #ffffff; stroke: #ffffff; stroke-width: 0.8"/>
      </g>
     </g>
     <g id="text_23">
      <text style="font-size: 10px; font-family: 'DejaVu Sans', sans-serif; text-anchor: start; fill: #ffffff" x="463.606" y="219.028819" transform="translate(464.106 0.72) scale(0.94 1) translate(-464.106 0)">2</text>
     </g>
    </g>
    <g id="ytick_10">
     <g id="line2d_42">
      <g>
       <use href="#mb60851cee2" x="456.8400" y="186.8400" style="fill: #ffffff; stroke: #ffffff; stroke-width: 0.8"/>
      </g>
     </g>
     <g id="text_24">
      <text style="font-size: 10px; font-family: 'DejaVu Sans', sans-serif; text-anchor: start; fill: #ffffff" x="463.606" y="190.567219" transform="translate(464.106 0.72) scale(0.94 1) translate(-464.106 0)">4</text>
     </g>
    </g>
    <g id="ytick_11">
     <g id="line2d_43">
      <g>
       <use href="#mb60851cee2" x="456.8400" y="158.7600" style="fill: #ffffff; stroke: #ffffff; stroke-width: 0.8"/>
      </g>
     </g>
     <g id="text_25">
      <text style="font-size: 10px; font-family: 'DejaVu Sans', sans-serif; text-anchor: start; fill: #ffffff" x="463.606" y="162.105619" transform="translate(464.106 0.72) scale(0.94 1) translate(-464.106 0)">6</text>
     </g>
    </g>
    <g id="ytick_12">
     <g id="line2d_44">
      <g>
       <use href="#mb60851cee2" x="456.8400" y="129.9600" style="fill: #ffffff; stroke: #ffffff; stroke-width: 0.8"/>
      </g>
     </g>
     <g id="text_26">
      <text style="font-size: 10px; font-family: 'DejaVu Sans', sans-serif; text-anchor: start; fill: #ffffff" x="463.606" y="133.644019" transform="translate(464.106 0.72) scale(0.94 1) translate(-464.106 0)">8</text>
     </g>
    </g>
    <g id="ytick_13">
     <g id="line2d_45">
      <g>
       <use href="#mb60851cee2" x="456.8400" y="101.8800" style="fill: #ffffff; stroke: #ffffff; stroke-width: 0.8"/>
      </g>
     </g>
     <g id="text_27">
      <text style="font-size: 10px; font-family: 'DejaVu Sans', sans-serif; text-anchor: start; fill: #ffffff" x="463.606" y="105.182419" transform="translate(464.106 0.72) scale(0.94 1) translate(-464.106 0)">10</text>
     </g>
    </g>
    <g id="ytick_14">
     <g id="line2d_46">
      <g>
       <use href="#mb60851cee2" x="456.8400" y="73.0800" style="fill: #ffffff; stroke: #ffffff; stroke-width: 0.8"/>
      </g>
     </g>
     <g id="text_28">
      <text style="font-size: 10px; font-family: 'DejaVu Sans', sans-serif; text-anchor: start; fill: #ffffff" x="463.606" y="76.720819" transform="translate(464.106 0.72) scale(0.94 1) translate(-464.106 0)">12</text>
     </g>
    </g>
    <g id="ytick_15">
     <g id="line2d_47">
      <g>
       <use href="#mb60851cee2" x="456.8400" y="45.0000" style="fill: #ffffff; stroke: #ffffff; stroke-width: 0.8"/>
      </g>
     </g>
     <g id="text_29">
      <text style="font-size: 10px; font-family: 'DejaVu Sans', sans-serif; text-anchor: start; fill: #ffffff" x="463.606" y="48.259219" transform="translate(464.106 0.72) scale(0.94 1) translate(-464.106 0)">14</text>
     </g>
    </g>
    <g id="text_30">
     <text style="font-size: 10px; font-family: 'DejaVu Sans', sans-serif; text-anchor: middle; fill: #ffffff" x="487.929438" y="141.475104" transform="rotate(-90 487.929438 141.475104)">Return</text>
    </g>
   </g>
   <g id="line2d_48">
    <path d="M 54.432 219.816 
L 55.584 218.52 
L 57.024 217.656 
L 60.768 216.72 
L 67.32 216.144 
L 74.88 215.496 
L 76.752 213.624 
L 80.496 212.4 
L 86.112 211.752 
L 92.664 211.104 
L 95.472 211.32 
L 98.28 209.88 
L 105.768 208.296 
L 109.512 206.856 
L 115.2 206.712 
L 117.936 206.136 
L 125.64 205.488 
L 132.912 203.904 
L 136.368 204.336 
L 141.264 202.68 
L 149.616 201.816 
L 153.72 199.728 
L 164.16 197.136 
L 169.416 193.68 
L 173.52 193.464 
L 177.48 193.176 
L 179.784 192.456 
L 183.96 190.656 
L 190.872 189.936 
L 199.224 188.064 
L 205.992 186.984 
L 208.584 185.112 
L 213.84 184.104 
L 217.08 184.32 
L 221.112 183.672 
L 231.552 182.016 
L 234.648 178.704 
L 239.832 176.616 
L 246.096 175.032 
L 252 171.72 
L 255.6 169.92 
L 257.976 169.92 
L 262.44 167.04 
L 270.72 163.656 
L 276.48 159.192 
L 279.072 158.184 
L 283.248 151.92 
L 287.424 150.84 
L 293.688 149.832 
L 297.864 148.752 
L 299.088 149.4 
L 306.216 147.744 
L 311.4 146.16 
L 315.576 143.064 
L 320.76 140.472 
L 325.152 139.32 
L 330.336 139.896 
L 335.52 135.216 
L 338.544 134.28 
L 342.288 129.096 
L 345.744 126.072 
L 346.752 123.12 
L 347.256 117.144 
L 348.768 113.616 
L 352.728 112.608 
L 354.744 111.168 
L 357.696 107.136 
L 361.224 106.632 
L 363.672 104.688 
L 365.688 102.672 
L 368.64 101.664 
L 370.656 101.16 
L 373.176 97.2 
L 374.904 92.52 
L 378.144 91.8 
L 380.88 83.448 
L 385.2 82.368 
L 391.608 76.968 
L 394.848 75.888 
L 399.168 70.56 
L 402.408 69.48 
L 405.072 66.6 
L 408.168 62.496 
L 411.552 61.704 
L 414 58.752 
L 419.256 59.04 
L 421.128 53.352 
L 427.392 52.92 
L 430.704 49.176 
L 453.168 49.176 
L 455.688 46.296 
L 456.912 45.72 
" clip-path="url(#pd3155f5e3e)" style="fill: none; stroke: #ff00ff; stroke-width: 2; stroke-linecap: square"/>
   </g>
   <g id="line2d_49">
    <g clip-path="url(#pd3155f5e3e)">
     <use href="#mb747404ded" x="54.432" y="219.816" style="fill: #ff00ff; stroke: #ff00ff"/>
     <use href="#mb747404ded" x="95.472" y="211.32" style="fill: #ff00ff; stroke: #ff00ff"/>
     <use href="#mb747404ded" x="136.368" y="204.336" style="fill: #ff00ff; stroke: #ff00ff"/>
     <use href="#mb747404ded" x="177.12" y="193.202182" style="fill: #ff00ff; stroke: #ff00ff"/>
     <use href="#mb747404ded" x="217.08" y="184.32" style="fill: #ff00ff; stroke: #ff00ff"/>
     <use href="#mb747404ded" x="257.976" y="169.92" style="fill: #ff00ff; stroke: #ff00ff"/>
     <use href="#mb747404ded" x="299.088" y="149.4" style="fill: #ff00ff; stroke: #ff00ff"/>
     <use href="#mb747404ded" x="338.544" y="134.28" style="fill: #ff00ff; stroke: #ff00ff"/>
     <use href="#mb747404ded" x="378.144" y="91.8" style="fill: #ff00ff; stroke: #ff00ff"/>
     <use href="#mb747404ded" x="419.256" y="59.04" style="fill: #ff00ff; stroke: #ff00ff"/>
    </g>
   </g>
   <g id="line2d_50">
    <path d="M 54.432 231.48 
L 55.584 229.824 
L 57.024 229.536 
L 62.64 229.104 
L 74.88 229.248 
L 77.688 230.472 
L 84.24 230.688 
L 95.472 230.832 
L 100.152 230.04 
L 109.512 229.68 
L 117.936 229.824 
L 133.056 230.184 
L 135.864 228.96 
L 144.36 228.312 
L 153.72 229.392 
L 163.08 229.248 
L 167.76 228.024 
L 176.184 228.024 
L 182.88 228.168 
L 207.288 226.944 
L 209.16 226.008 
L 217.08 226.944 
L 225.072 226.44 
L 232.56 226.44 
L 235.368 227.88 
L 247.536 227.232 
L 257.04 226.296 
L 271.152 226.656 
L 275.76 227.376 
L 283.32 229.248 
L 296.424 228.816 
L 312.336 229.248 
L 333.36 228.528 
L 338.544 228.312 
L 344.808 227.952 
L 348.408 229.752 
L 364.608 230.04 
L 374.976 230.616 
L 384.408 230.904 
L 397.728 230.544 
L 404.352 231.48 
L 417.6 231.768 
L 428.616 231.984 
L 456.912 231.984 
" clip-path="url(#pd3155f5e3e)" style="fill: none; stroke: #00ffff; stroke-width: 2; stroke-linecap: square"/>
   </g>
   <g id="line2d_51">
    <g clip-path="url(#pd3155f5e3e)">
     <use href="#m5362e61e45" x="54.432" y="231.48" style="fill: #00ffff; stroke: #00ffff; stroke-linejoin: miter"/>
     <use href="#m5362e61e45" x="95.472" y="230.832" style="fill: #00ffff; stroke: #00ffff; stroke-linejoin: miter"/>
     <use href="#m5362e61e45" x="136.368" y="228.921559" style="fill: #00ffff; stroke: #00ffff; stroke-linejoin: miter"/>
     <use href="#m5362e61e45" x="177.12" y="228.044129" style="fill: #00ffff; stroke: #00ffff; stroke-linejoin: miter"/>
     <use href="#m5362e61e45" x="217.08" y="226.944" style="fill: #00ffff; stroke: #00ffff; stroke-linejoin: miter"/>
     <use href="#m5362e61e45" x="257.976" y="226.319878" style="fill: #00ffff; stroke: #00ffff; stroke-linejoin: miter"/>
     <use href="#m5362e61e45" x="299.088" y="228.888326" style="fill: #00ffff; stroke: #00ffff; stroke-linejoin: miter"/>
     <use href="#m5362e61e45" x="338.544" y="228.312" style="fill: #00ffff; stroke: #00ffff; stroke-linejoin: miter"/>
     <use href="#m5362e61e45" x="378.144" y="230.712733" style="fill: #00ffff; stroke: #00ffff; stroke-linejoin: miter"/>
     <use href="#m5362e61e45" x="419.256" y="231.800471" style="fill: #00ffff; stroke: #00ffff; stroke-linejoin: miter"/>
    </g>
   </g>
   <g id="patch_8">
    <path d="M 54.3600 241.5600 
L 54.3600 37.0800 
" style="fill: none; stroke: #ffffff; stroke-width: 0.8; stroke-linejoin: miter; stroke-linecap: square"/>
   </g>
   <g id="patch_9">
    <path d="M 456.8400 241.5600 
L 456.8400 37.0800 
" style="fill: none; stroke: #ffffff; stroke-width: 0.8; stroke-linejoin: miter; stroke-linecap: square"/>
   </g>
   <g id="patch_10">
    <path d="M 54.3600 241.5600 
L 456.8400 241.5600 
" style="fill: none; stroke: #ffffff; stroke-width: 0.8; stroke-linejoin: miter; stroke-linecap: square"/>
   </g>
   <g id="patch_11">
    <path d="M 54.3600 37.0800 
L 456.8400 37.0800 
" style="fill: none; stroke: #ffffff; stroke-width: 0.8; stroke-linejoin: miter; stroke-linecap: square"/>
   </g>
  </g>
  <g id="text_31">
   <text style="font-weight: 700; font-size: 12px; font-family: 'DejaVu Sans', sans-serif; text-anchor: middle; fill: #ffffff" x="255.6" y="17.35125" transform="rotate(-0 255.6 17.35125)">FOREX - CHN.ECOMM</text>
  </g>
  <g id="text_32">
   <text style="font-weight: 700; font-size: 20px; font-family: 'DejaVu Sans', sans-serif; text-anchor: start; fill: #ff00ff; opacity: 0.58" x="6.84" y="300.6" transform="rotate(-0 6.84 300.6)">uqtool.com</text>
  </g>
 </g>
 <defs>
  <clipPath id="p8a2a7d8e47">
   <rect x="54.126" y="36.72" width="402.48" height="204.48"/>
  </clipPath>
  <clipPath id="pd3155f5e3e">
   <rect x="54.126" y="36.72" width="402.48" height="204.48"/>
  </clipPath>
 </defs>
</svg>

</body></html>
